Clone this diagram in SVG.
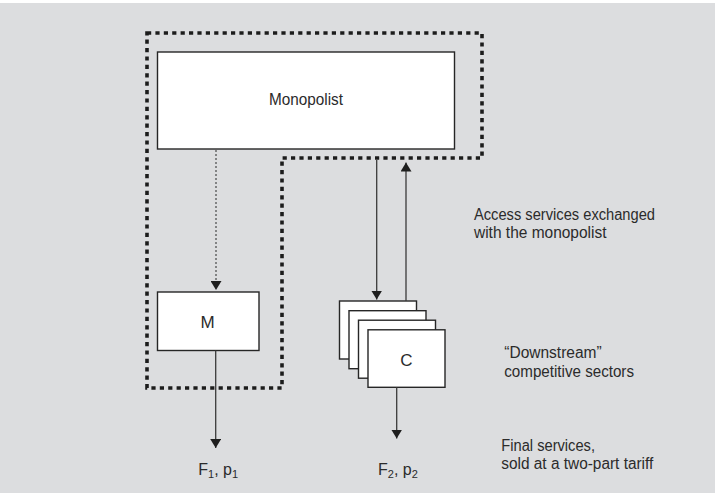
<svg xmlns="http://www.w3.org/2000/svg" width="715" height="493" viewBox="0 0 715 493">
  <style>
    .lbl { font-family: "Liberation Sans", Arial, sans-serif; fill: #2b2b2b; }
    .box { fill: #ffffff; stroke: #262626; stroke-width: 1.4; }
    .flow { fill: none; stroke: #3a3a3a; stroke-width: 1.3; }
    .dots { fill: none; stroke: #3a3a3a; stroke-width: 1.1; stroke-dasharray: 2 2; }
    .bound { fill: none; stroke: #1c1c1c; stroke-width: 3.6; stroke-dasharray: 4.2 4.2; }
    .sub { font-size: 11px; }
  </style>
  <defs>
    <marker id="head" viewBox="0 0 10 10" refX="10" refY="5" markerWidth="9" markerHeight="11" markerUnits="userSpaceOnUse" orient="auto" preserveAspectRatio="none">
      <path d="M0,0 L10,5 L0,10 Z" fill="#1e1e1e"/>
    </marker>
  </defs>

  <!-- backdrop -->
  <rect x="0" y="0" width="715" height="493" fill="#dcdddf"/>
  <rect x="0" y="0" width="715" height="3" fill="#ffffff"/>

  <!-- firm boundary of the integrated monopolist -->
  <path id="boundary" class="bound" d="M147,33 H482 V158 H282 V388 H147 Z"/>

  <g id="monopolist">
    <rect class="box" x="157.5" y="52" width="297" height="97"/>
    <text class="lbl" x="306" y="105" font-size="17" text-anchor="middle" textLength="74" lengthAdjust="spacingAndGlyphs">Monopolist</text>
  </g>

  <g id="m">
    <rect class="box" x="157.5" y="292" width="101.5" height="58.5"/>
    <text class="lbl" x="207.7" y="328" font-size="17" text-anchor="middle">M</text>
  </g>

  <g id="c">
    <rect class="box" x="339.5" y="301" width="77" height="58"/>
    <rect class="box" x="349" y="310.7" width="77" height="58"/>
    <rect class="box" x="358.5" y="320.2" width="77" height="58"/>
    <rect class="box" x="368" y="329.8" width="77" height="57.5"/>
    <text class="lbl" x="406.3" y="365.7" font-size="17" text-anchor="middle">C</text>
  </g>

  <g id="connectors">
    <path class="dots" d="M216,150 V290" marker-end="url(#head)"/>
    <path class="flow" d="M376.7,160 V299.5" marker-end="url(#head)"/>
    <path class="flow" d="M406,301 V162.5" marker-end="url(#head)"/>
    <path class="flow" d="M215.7,350.5 V448" marker-end="url(#head)"/>
    <path class="flow" d="M396.7,387.3 V438.5" marker-end="url(#head)"/>
  </g>

  <g id="outputs">
    <text class="lbl" x="198.3" y="475" font-size="16">F<tspan class="sub" dy="3">1</tspan><tspan dy="-3">, p</tspan><tspan class="sub" dy="3">1</tspan></text>
    <text class="lbl" x="378" y="475" font-size="16">F<tspan class="sub" dy="3">2</tspan><tspan dy="-3">, p</tspan><tspan class="sub" dy="3">2</tspan></text>
  </g>

  <g id="notes">
    <text class="lbl" x="474" y="219.5" font-size="16" textLength="181" lengthAdjust="spacingAndGlyphs">Access services exchanged</text>
    <text class="lbl" x="474" y="238" font-size="16" textLength="132.5" lengthAdjust="spacingAndGlyphs">with the monopolist</text>
    <text class="lbl" x="504.3" y="358.3" font-size="16" textLength="97.4" lengthAdjust="spacingAndGlyphs">“Downstream”</text>
    <text class="lbl" x="504.3" y="377.3" font-size="16" textLength="129.7" lengthAdjust="spacingAndGlyphs">competitive sectors</text>
    <text class="lbl" x="501.3" y="451" font-size="16" textLength="93.7" lengthAdjust="spacingAndGlyphs">Final services,</text>
    <text class="lbl" x="501.3" y="469.3" font-size="16" textLength="152" lengthAdjust="spacingAndGlyphs">sold at a two-part tariff</text>
  </g>
</svg>
